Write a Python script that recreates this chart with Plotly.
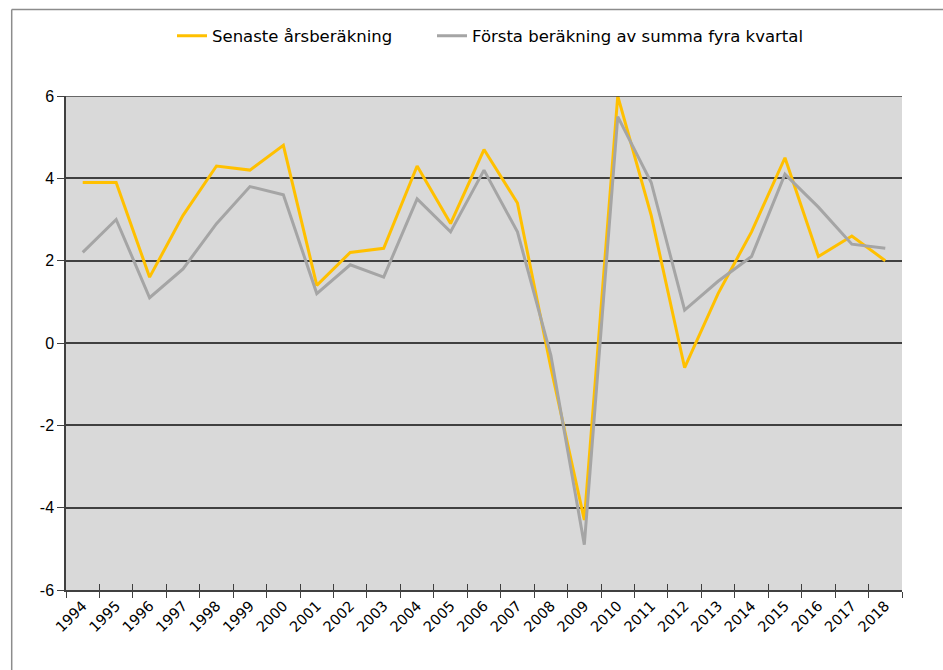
import plotly.graph_objects as go

years = [str(y) for y in range(1994, 2019)]
senaste = [3.9, 3.9, 1.6, 3.1, 4.3, 4.2, 4.8, 1.4, 2.2, 2.3, 4.3, 2.9, 4.7, 3.4,
           -0.6, -4.3, 6.0, 3.1, -0.6, 1.2, 2.7, 4.5, 2.1, 2.6, 2.0]
forsta = [2.2, 3.0, 1.1, 1.8, 2.9, 3.8, 3.6, 1.2, 1.9, 1.6, 3.5, 2.7, 4.2, 2.7,
          -0.3, -4.9, 5.5, 3.9, 0.8, 1.5, 2.1, 4.1, 3.3, 2.4, 2.3]
name_a = "Senaste årsberäkning"
name_b = "Första beräkning av summa fyra kvartal"
yticks = [-6, -4, -2, 0, 2, 4, 6]

W, H = 943, 670
L, R, T, B = 66, 41, 96, 80
pw, ph = W - L - R, H - T - B

def px(xp):
    return (xp - L) / pw

def py(yp):
    return (H - B - yp) / ph

fig = go.Figure()
fig.add_trace(go.Scatter(x=years, y=senaste, mode="lines", name=name_a,
                         line=dict(color="#FFC000", width=3), legend="legend"))
fig.add_trace(go.Scatter(x=years, y=forsta, mode="lines", name=name_b,
                         line=dict(color="#A5A5A5", width=3), legend="legend2"))
fig.add_trace(go.Scatter(x=years, y=[None] * len(years), xaxis="x2", mode="lines",
                         showlegend=False, hoverinfo="skip"))

leg_common = dict(orientation="h", xanchor="left", y=py(36), yanchor="middle",
                  font=dict(family="DejaVu Sans", size=16.5), itemwidth=30,
                  bgcolor="rgba(0,0,0,0)")

fig.update_layout(
    width=W, height=H,
    margin=dict(l=L, r=R, t=T, b=B),
    paper_bgcolor="white",
    plot_bgcolor="#D9D9D9",
    font=dict(family="Liberation Sans, Arial, sans-serif", size=14, color="#000000"),
    showlegend=True,
    legend=dict(x=px(172), **leg_common),
    legend2=dict(x=px(432), **leg_common),
    xaxis=dict(type="category", categoryorder="array", categoryarray=years,
               range=[-0.5, len(years) - 0.5],
               tickangle=-45, tickfont=dict(family="DejaVu Sans", size=14.5),
               ticks="outside", ticklen=6, tickson="boundaries", tickcolor="#404040",
               showline=True, linecolor="#404040", linewidth=1.5,
               showgrid=False, zeroline=False),
    xaxis2=dict(type="category", categoryorder="array", categoryarray=years,
                range=[-0.5, len(years) - 0.5], overlaying="x", anchor="y",
                side="bottom", ticks="inside", ticklen=6, tickson="boundaries",
                tickcolor="#404040", showticklabels=False, showline=False,
                showgrid=False, zeroline=False),
    yaxis=dict(range=[-6, 6], tickvals=yticks, ticktext=[str(v) for v in yticks],
               ticks="outside", ticklen=7, tickcolor="#404040",
               showline=True, linecolor="#404040", linewidth=1.5,
               showgrid=True, gridcolor="#404040", gridwidth=1.5,
               zeroline=False, tickfont=dict(size=16)),
    shapes=[
        dict(type="line", xref="paper", yref="paper", x0=px(11.7), x1=px(11.7),
             y0=py(9.5), y1=py(H + 5), line=dict(color="#8C8C8C", width=1.5)),
        dict(type="line", xref="paper", yref="paper", x0=px(11.7), x1=px(W + 5),
             y0=py(9.5), y1=py(9.5), line=dict(color="#8C8C8C", width=1.5)),
        dict(type="line", xref="paper", yref="y", x0=0, x1=1, y0=6, y1=6,
             line=dict(color="#404040", width=1.5)),
    ],
)

fig.write_html("out.html", config={"displayModeBar": False},
               post_script="document.body.style.margin='0';document.body.style.overflow='hidden';")
